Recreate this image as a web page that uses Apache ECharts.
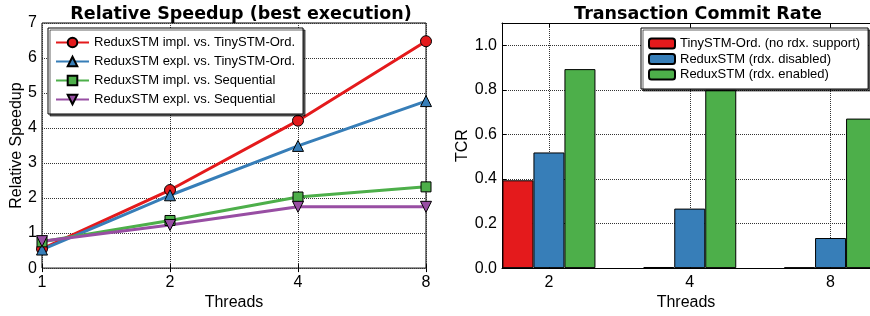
<!DOCTYPE html>
<html>
<head>
<meta charset="utf-8">
<script src="https://cdn.jsdelivr.net/npm/echarts@6/dist/echarts.min.js"></script>
<style>
  html, body { margin: 0; padding: 0; background: #fff; }
  #chart { width: 870px; height: 316px; }
</style>
</head>
<body>
<div id="chart"></div>
<script>
// left panel: relative speedup
const threads = ['1', '2', '4', '8'];
const implVsTiny = [0.55, 2.23, 4.21, 6.48];
const explVsTiny = [0.53, 2.08, 3.49, 4.77];
const implVsSeq = [0.75, 1.36, 2.03, 2.32];
const explVsSeq = [0.77, 1.23, 1.75, 1.75];

// right panel: transaction commit rate
const tcrThreads = ['2', '4', '8'];
const tcrTiny = [0.394, 0.005, 0.003];
const tcrDisabled = [0.519, 0.267, 0.135];
const tcrEnabled = [0.893, 0.80, 0.671];

const RED = '#e41a1c', BLUE = '#377eb8', GREEN = '#4daf4a', PURPLE = '#984ea3';
const FONT = 'Liberation Sans';
const grid = { type: 'dotted', color: '#333', width: 1 };

const chart = echarts.init(document.getElementById('chart'));

function lineSeries(name, data, color, symbol, size, rotate) {
  return {
    name: name, type: 'line', xAxisIndex: 0, yAxisIndex: 0,
    data: data, color: color,
    symbol: symbol, symbolSize: size, symbolRotate: rotate || 0,
    lineStyle: { width: 3, color: color },
    itemStyle: { color: color, borderColor: '#000', borderWidth: 1 },
    clip: true, z: 3
  };
}

function barSeries(name, data, color) {
  return {
    name: name, type: 'bar', xAxisIndex: 2, yAxisIndex: 2,
    data: data.map((v, i) => [i, v]),
    color: color,
    barWidth: 31, barGap: '0%',
    itemStyle: { color: color, borderColor: '#000', borderWidth: 1 }
  };
}

const tickStyle = { inside: true, length: 4, lineStyle: { color: '#000' } };
const lblStyle = { color: '#000', fontFamily: FONT, fontSize: 16 };
const nameStyle = { color: '#000', fontFamily: FONT, fontSize: 16 };
const frame = { show: true, onZero: false, lineStyle: { color: '#000', width: 1 } };
// x range of the bar panel, in group units (panel is cut at the right edge)
const barMin = -1 / 3, barMax = 2.28;

chart.setOption({
  animation: false,
  textStyle: { fontFamily: FONT },
  title: [
    { text: 'Relative Speedup (best execution)', left: 236, top: 0, textAlign: 'center',
      textStyle: { fontFamily: 'DejaVu Sans', fontWeight: 'bold', fontSize: 17.5, color: '#000' } },
    { text: 'Transaction Commit Rate', left: 693, top: 0, textAlign: 'center',
      textStyle: { fontFamily: 'DejaVu Sans', fontWeight: 'bold', fontSize: 17.5, color: '#000' } }
  ],
  grid: [
    { left: 42, top: 23, right: 444, bottom: 38, show: true, borderColor: '#000', borderWidth: 1 },
    { left: 502, top: 23, right: 0, bottom: 38 }
  ],
  legend: [
    {
      left: 48, top: 28, orient: 'vertical',
      padding: [8, 8, 8, 7], itemGap: 6, itemWidth: 33, itemHeight: 12,
      borderColor: '#000', borderWidth: 1, backgroundColor: '#fff',
      shadowColor: 'rgba(0,0,0,0.6)', shadowOffsetX: 2, shadowOffsetY: 2, shadowBlur: 0,
      textStyle: { fontFamily: FONT, fontSize: 13, lineHeight: 13, color: '#000' },
      data: ['ReduxSTM impl. vs. TinySTM-Ord.', 'ReduxSTM expl. vs. TinySTM-Ord.',
             'ReduxSTM impl. vs. Sequential', 'ReduxSTM expl. vs. Sequential']
    },
    {
      left: 641, top: 28, orient: 'vertical',
      padding: [9, 8, 8, 7], itemGap: 2.5, itemWidth: 26, itemHeight: 10,
      borderColor: '#000', borderWidth: 1, backgroundColor: '#fff',
      shadowColor: 'rgba(0,0,0,0.6)', shadowOffsetX: 2, shadowOffsetY: 2, shadowBlur: 0,
      textStyle: { fontFamily: FONT, fontSize: 13, lineHeight: 12, color: '#000' },
      data: ['TinySTM-Ord. (no rdx. support)', 'ReduxSTM (rdx. disabled)', 'ReduxSTM (rdx. enabled)']
    }
  ],
  xAxis: [
    {
      gridIndex: 0, type: 'category', data: threads, boundaryGap: false,
      name: 'Threads', nameLocation: 'middle', nameGap: 25, nameTextStyle: nameStyle,
      axisLine: { show: false }, axisTick: tickStyle,
      axisLabel: Object.assign({ margin: 6 }, lblStyle),
      splitLine: { show: true, lineStyle: grid }
    },
    {
      gridIndex: 0, type: 'category', data: threads, boundaryGap: false, position: 'top',
      axisLine: { show: false }, axisTick: tickStyle, axisLabel: { show: false }, splitLine: { show: false }
    },
    {
      gridIndex: 1, type: 'value', min: barMin, max: barMax,
      name: 'Threads', nameLocation: 'middle', nameGap: 25, nameTextStyle: nameStyle,
      axisLine: frame,
      axisTick: Object.assign({ customValues: [0, 1, 2] }, tickStyle),
      axisLabel: Object.assign({ margin: 6, customValues: [0, 1, 2],
        formatter: v => tcrThreads[Math.round(v)] }, lblStyle),
      splitLine: { show: true, lineStyle: grid }
    },
    {
      gridIndex: 1, type: 'value', min: barMin, max: barMax, position: 'top',
      axisLine: frame,
      axisTick: Object.assign({ customValues: [0, 1, 2] }, tickStyle),
      axisLabel: { show: false }, splitLine: { show: false }
    }
  ],
  yAxis: [
    {
      gridIndex: 0, type: 'value', min: 0, max: 7, interval: 1,
      name: 'Relative Speedup', nameLocation: 'middle', nameGap: 17, nameTextStyle: nameStyle,
      axisLine: { show: false }, axisTick: tickStyle,
      axisLabel: Object.assign({ margin: 5 }, lblStyle),
      splitLine: { show: true, lineStyle: grid }
    },
    {
      gridIndex: 0, type: 'value', min: 0, max: 7, interval: 1, position: 'right',
      axisLine: { show: false }, axisTick: tickStyle, axisLabel: { show: false }, splitLine: { show: false }
    },
    {
      gridIndex: 1, type: 'value', min: 0, max: 1.1, interval: 0.2,
      name: 'TCR', nameLocation: 'middle', nameGap: 29, nameTextStyle: nameStyle,
      axisLine: frame, axisTick: tickStyle,
      axisLabel: Object.assign({ margin: 5, showMaxLabel: false, formatter: v => v.toFixed(1) }, lblStyle),
      splitLine: { show: true, lineStyle: grid }
    }
  ],
  series: [
    lineSeries('ReduxSTM impl. vs. TinySTM-Ord.', implVsTiny, RED, 'circle', 11),
    lineSeries('ReduxSTM expl. vs. TinySTM-Ord.', explVsTiny, BLUE, 'triangle', 11),
    lineSeries('ReduxSTM impl. vs. Sequential', implVsSeq, GREEN, 'rect', 10),
    lineSeries('ReduxSTM expl. vs. Sequential', explVsSeq, PURPLE, 'triangle', 11, 180),
    barSeries('TinySTM-Ord. (no rdx. support)', tcrTiny, RED),
    barSeries('ReduxSTM (rdx. disabled)', tcrDisabled, BLUE),
    barSeries('ReduxSTM (rdx. enabled)', tcrEnabled, GREEN)
  ]
});
</script>
</body>
</html>
